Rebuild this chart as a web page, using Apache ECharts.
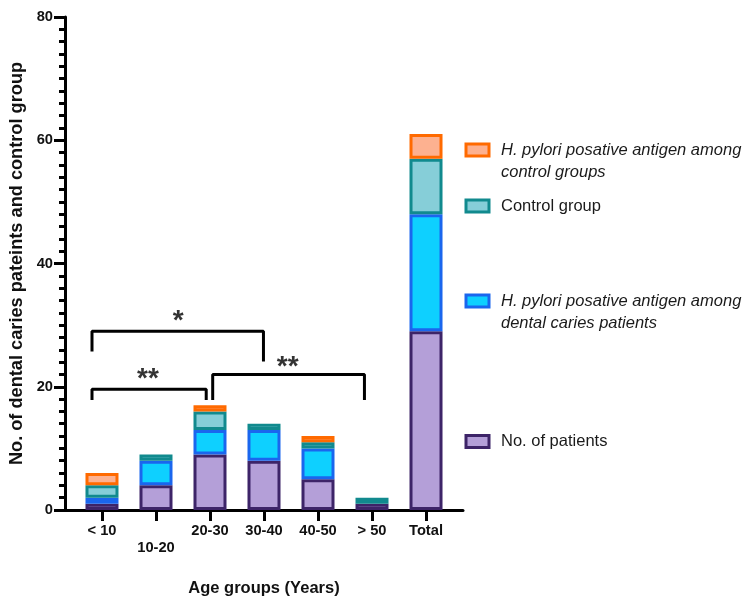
<!DOCTYPE html>
<html><head><meta charset="utf-8">
<script src="https://cdn.jsdelivr.net/npm/echarts@6/dist/echarts.min.js"></script>
<style>html,body{margin:0;padding:0;background:#fff}#c{width:746px;height:603px}</style>
</head><body><div id="c"></div>
<script>
// ---- data ----
const categories = ['< 10', '10-20', '20-30', '30-40', '40-50', '> 50', 'Total'];
const patients = [1, 4, 9, 8, 5, 1, 29];
const hpPatients = [1, 4, 4, 5, 5, 0, 19];
const controlGroup = [2, 1, 3, 1, 1, 1, 9];
const hpControl = [2, 0, 1, 0, 1, 0, 4];
const yTickValues = [0, 20, 40, 60, 80];
// significance brackets (in data units: category index / count)
const bracketStart = [-0.185, -0.185, 2.05];
const bracketEnd = [2.99, 1.93, 4.86];
const bracketTop = [29, 19.6, 22];
const bracketLegLeft = [25.7, 17.85, 17.85];
const bracketLegRight = [24.1, 17.85, 17.85];
const sigText = ['*', '**', '**'];
const sigX = [1.41, 0.85, 3.44];
const sigY = [30.6, 21.2, 23.2];

const names = {
  pat: 'No. of patients',
  hpPat: 'H. pylori posative antigen among dental caries patients',
  ctl: 'Control group',
  hpCtl: 'H. pylori posative antigen among control groups'
};

const FONT = '"Liberation Sans", Arial, sans-serif';
const idx = categories.map((_, i) => i);
// value first, category index second (encode maps them to y / x)
const toData = arr => arr.map((v, i) => [v === 0 ? '-' : v, i]);

function barSeries(name, arr, fill, border) {
  return {
    name: name, type: 'bar', stack: 'all', barWidth: 33,
    encode: { x: 1, y: 0 },
    data: toData(arr),
    itemStyle: { color: fill, borderColor: border, borderWidth: 3 },
    emphasis: { disabled: true }
  };
}

const bracketSeries = bracketStart.map((x0, k) => ({
  type: 'line', symbol: 'none', silent: true, z: 5,
  lineStyle: { color: '#000', width: 3 },
  data: [[x0, bracketLegLeft[k]], [x0, bracketTop[k]], [bracketEnd[k], bracketTop[k]], [bracketEnd[k], bracketLegRight[k]]]
}));

const starSeries = {
  type: 'scatter', symbolSize: 1, silent: true, z: 6,
  itemStyle: { color: 'transparent' },
  data: sigX.map((x, k) => [x, sigY[k], sigText[k]]),
  label: { show: true, position: 'inside', formatter: p => p.value[2], fontSize: 28, fontWeight: 'bold', color: '#000', fontFamily: FONT }
};

function legend(name, top, italic, fmt) {
  return {
    data: [name], top: top, left: 464.5, padding: 0, orient: 'vertical',
    itemWidth: 23, itemHeight: 12, icon: 'rect', selectedMode: false,
    itemStyle: { borderWidth: 3 },
    formatter: fmt || (n => n),
    textStyle: {
      fontFamily: FONT, fontSize: 16.5, color: '#1a1a1a', lineHeight: 22,
      fontStyle: italic ? 'italic' : 'normal',
      padding: [0, 0, 0, 7]
    }
  };
}

const chart = echarts.init(document.getElementById('c'), null, { renderer: 'canvas' });
chart.setOption({
  animation: false,
  backgroundColor: '#fff',
  grid: { left: 65, top: 17, width: 398, height: 493, containLabel: false, outerBoundsMode: 'none' },
  legend: [
    legend(names.hpCtl, 117, true, () => '\nH. pylori posative antigen among\ncontrol groups'),
    legend(names.ctl, 195, false),
    legend(names.hpPat, 268, true, () => '\nH. pylori posative antigen among\ndental caries patients'),
    legend(names.pat, 430.5, false)
  ],
  xAxis: {
    type: 'value', min: -0.685, max: 6.685,
    axisLine: { show: true, onZero: false, lineStyle: { color: '#000', width: 3 } },
    axisTick: { show: true, customValues: idx, length: 11, lineStyle: { color: '#000', width: 3 } },
    axisLabel: {
      customValues: idx, margin: 13, fontFamily: FONT, fontSize: 14.7, fontWeight: 'bold', color: '#111', lineHeight: 16.6,
      formatter: v => { const i = Math.round(v); return i === 1 ? '\n' + categories[i] : categories[i]; }
    },
    splitLine: { show: false },
    name: 'Age groups (Years)', nameLocation: 'middle', nameGap: 70,
    nameTextStyle: { fontFamily: FONT, fontSize: 16.5, fontWeight: 'bold', color: '#111' }
  },
  yAxis: {
    type: 'value', min: 0, max: 80, interval: 20,
    axisLine: { show: true, onZero: false, lineStyle: { color: '#000', width: 3 } },
    axisTick: { show: true, length: 11, lineStyle: { color: '#000', width: 3 } },
    minorTick: { show: true, splitNumber: 10, length: 6, lineStyle: { color: '#000', width: 3 } },
    axisLabel: { margin: 12, fontFamily: FONT, fontSize: 14.7, fontWeight: 'bold', color: '#111',
      formatter: v => yTickValues.includes(v) ? String(v) : '' },
    splitLine: { show: false },
    name: 'No. of dental caries pateints and control group', nameLocation: 'middle', nameGap: 39,
    nameTextStyle: { fontFamily: FONT, fontSize: 18.2, fontWeight: 'bold', color: '#111' }
  },
  series: [
    barSeries(names.pat, patients, '#B49FD8', '#3D2468'),
    barSeries(names.hpPat, hpPatients, '#0ED0FF', '#1A66EE'),
    barSeries(names.ctl, controlGroup, '#86CED8', '#118A8E'),
    barSeries(names.hpCtl, hpControl, '#FDB190', '#FF6A00'),
    ...bracketSeries,
    starSeries
  ]
});
</script>
</body></html>
